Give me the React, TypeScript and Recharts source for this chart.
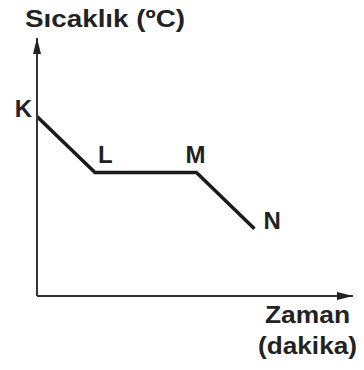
import React from 'react';
import { LineChart, Line, XAxis, YAxis, LabelList } from 'recharts';

// Data (arbitrary units: time in minutes, temperature in °C)
const times = [0, 2, 5.5, 7.5];
const temps = [16, 11, 11, 6];
const pointNames = ['K', 'L', 'M', 'N'];
const yTitle = 'Sıcaklık (ºC)';
const xTitleLines = ['Zaman', '(dakika)'];

const data = times.map((t, i) => ({ t, temp: temps[i], name: pointNames[i] }));

// label placement relative to each point (styling only)
const labelPlacement: Record<string, { dx: number; dy: number; anchor: 'start' | 'middle' | 'end' }> = {
  K: { dx: -5, dy: 0, anchor: 'end' },
  L: { dx: 3, dy: -10, anchor: 'start' },
  M: { dx: -1, dy: -10, anchor: 'middle' },
  N: { dx: 9, dy: 0, anchor: 'start' },
};

const ink = '#222';
const font = 'Liberation Sans, Arial, sans-serif';

const renderPointLabel = (props: any) => {
  const { x, y, value } = props;
  const p = labelPlacement[value as string];
  if (!p) return null;
  return (
    <text
      x={x + p.dx}
      y={y + p.dy}
      textAnchor={p.anchor}
      fontFamily={font}
      fontWeight="bold"
      fontSize={24}
      fill={ink}
    >
      {value}
    </text>
  );
};

const renderYTitle = (props: any) => {
  const vb = props.viewBox || {};
  const ax = vb.x + vb.width;
  return (
    <text
      x={ax - 12}
      y={vb.y - 11}
      textAnchor="start"
      fontFamily={font}
      fontWeight="bold"
      fontSize={24}
      fill={ink}
      textLength={160}
      lengthAdjust="spacingAndGlyphs"
    >
      {yTitle}
    </text>
  );
};

const renderXTitle = (props: any) => {
  const vb = props.viewBox || {};
  const right = vb.x + vb.width;
  return (
    <g>
      <text
        x={right - 3}
        y={vb.y + 27}
        textAnchor="end"
        fontFamily={font}
        fontWeight="bold"
        fontSize={24}
        fill={ink}
        textLength={85}
        lengthAdjust="spacingAndGlyphs"
      >
        {xTitleLines[0]}
      </text>
      <text
        x={right + 4}
        y={vb.y + 58}
        textAnchor="end"
        fontFamily={font}
        fontWeight="bold"
        fontSize={24}
        fill={ink}
        textLength={99}
        lengthAdjust="spacingAndGlyphs"
      >
        {xTitleLines[1]}
      </text>
    </g>
  );
};

export default function App() {
  return (
    <div style={{ position: 'absolute', left: 0, top: 0, width: 364, height: 370, background: '#fff' }}>
      <svg width={0} height={0} style={{ position: 'absolute' }}>
        <defs>
          <marker
            id="arrowhead"
            markerUnits="userSpaceOnUse"
            markerWidth={16}
            markerHeight={10}
            viewBox="0 0 16 10"
            refX={16}
            refY={5}
            orient="auto-start-reverse"
          >
            <path d="M0,1 L16,5 L0,9 z" fill="#222" />
          </marker>
        </defs>
      </svg>
      <LineChart
        width={364}
        height={370}
        data={data}
        margin={{ top: 38, right: 11, bottom: 73, left: 36 }}
      >
        <XAxis
          type="number"
          dataKey="t"
          domain={[0, 10.9]}
          allowDataOverflow
          height={1}
          tick={false}
          tickLine={false}
          axisLine={{ stroke: '#333', strokeWidth: 2, markerEnd: 'url(#arrowhead)' } as any}
          label={{ content: renderXTitle } as any}
        />
        <YAxis
          type="number"
          dataKey="temp"
          domain={[0, 23]}
          allowDataOverflow
          width={1}
          tick={false}
          tickLine={false}
          axisLine={{ stroke: '#333', strokeWidth: 2, markerStart: 'url(#arrowhead)' } as any}
          label={{ content: renderYTitle } as any}
        />
        <Line
          type="linear"
          dataKey="temp"
          stroke="#1a1a1a"
          strokeWidth={3.5}
          dot={false}
          activeDot={false}
          isAnimationActive={false}
        >
          <LabelList dataKey="name" content={renderPointLabel} />
        </Line>
      </LineChart>
    </div>
  );
}
